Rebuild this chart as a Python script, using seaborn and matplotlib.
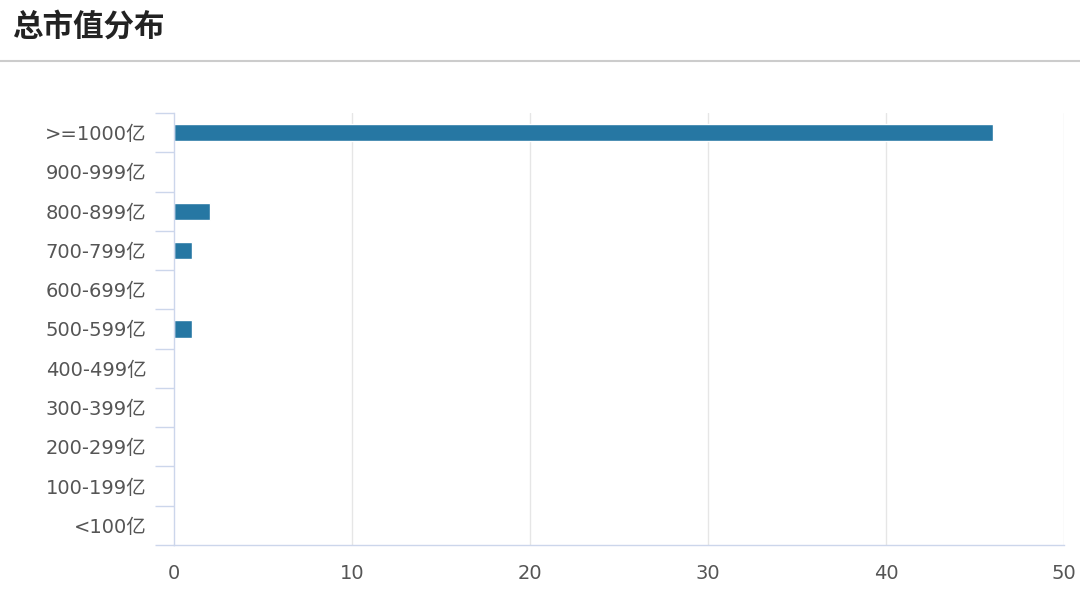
import pandas as pd
import numpy as np
import matplotlib.pyplot as plt
import seaborn as sns
from matplotlib.lines import Line2D

# 总市值分布数据
categories = [">=1000亿", "900-999亿", "800-899亿", "700-799亿", "600-699亿",
              "500-599亿", "400-499亿", "300-399亿", "200-299亿", "100-199亿", "<100亿"]
counts = [46, 0, 2, 1, 0, 1, 0, 0, 0, 0, 0]
x_ticks = [0, 10, 20, 30, 40, 50]

df = pd.DataFrame({"区间": categories, "数量": counts})

sns.set_style("white")
plt.rcParams['font.family'] = ['DejaVu Sans', 'Noto Sans CJK SC']

fig = plt.figure(figsize=(10.8, 6.05), dpi=100)
ax = fig.add_axes([174 / 1080, 1 - 545 / 605, (1064 - 174) / 1080, (545 - 113) / 605])

sns.barplot(data=df, x="数量", y="区间", orient="h", color="#2677a3",
            saturation=1, width=0.44, ax=ax)

ax.set_xlim(0, 50)
ax.set_ylim(len(categories) - 0.5, -0.5)
ax.set_xticks(x_ticks)
ax.set_xlabel("")
ax.set_ylabel("")

# 竖向网格线
for t in x_ticks[1:]:
    ax.axvline(t, color="#e6e6e6", lw=1, zorder=0)

for s in ["top", "right"]:
    ax.spines[s].set_visible(False)
for s in ["left", "bottom"]:
    ax.spines[s].set_color("#ccd6eb")
    ax.spines[s].set_linewidth(1)

ax.tick_params(axis="x", length=0, pad=14, labelsize=14, labelcolor="#555555")
ax.tick_params(axis="y", length=0, pad=20, labelsize=14, labelcolor="#555555")

# 类别分隔刻度
ax.set_yticks(np.arange(-0.5, len(categories), 1), minor=True)
ax.tick_params(axis="y", which="minor", left=True, length=14, color="#ccd6eb", width=1)

# 标题和分隔线
fig.text(12 / 1080, 1 - 27 / 605, "总市值分布", fontsize=22, fontweight="bold",
         color="#222222", va="center", ha="left", family=['Noto Sans CJK SC'])
fig.add_artist(Line2D([0, 1], [1 - 61 / 605, 1 - 61 / 605], color="#cccccc", lw=1.5,
                      transform=fig.transFigure))

fig.savefig("out.png", dpi=100)
